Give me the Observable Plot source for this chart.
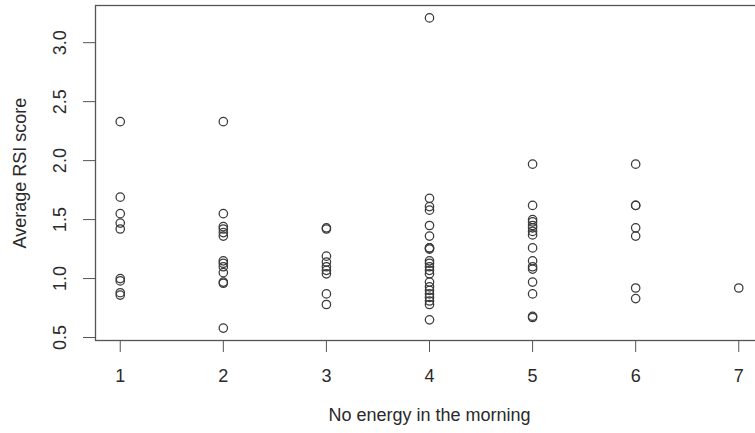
<!DOCTYPE html>
<html>
<head>
<meta charset="utf-8">
<script src="https://cdn.jsdelivr.net/npm/d3@7"></script>
<script src="https://cdn.jsdelivr.net/npm/@observablehq/plot@0.6"></script>
<style>
  html, body { margin: 0; padding: 0; background: #fff; overflow: hidden; }
  #chart { width: 755px; height: 433px; overflow: hidden; }
  #chart svg { max-width: none !important; }
</style>
</head>
<body>
<div id="chart"></div>
<script>
// Average RSI score by "No energy in the morning" level (1–7)
const level1 = [2.33, 1.69, 1.55, 1.47, 1.42, 1.00, 0.98, 0.88, 0.86];
const level2 = [2.33, 1.55, 1.44, 1.42, 1.39, 1.36, 1.15, 1.13, 1.10, 1.05, 0.97, 0.96, 0.58];
const level3 = [1.43, 1.42, 1.19, 1.14, 1.10, 1.07, 1.04, 0.87, 0.78];
const level4 = [3.21, 1.68, 1.61, 1.58, 1.45, 1.36, 1.26, 1.26, 1.25, 1.15, 1.13, 1.10, 1.07, 1.04, 0.97, 0.93, 0.90, 0.87, 0.84, 0.81, 0.78, 0.65];
const level5 = [1.97, 1.62, 1.50, 1.48, 1.45, 1.43, 1.40, 1.37, 1.26, 1.15, 1.10, 1.08, 0.97, 0.87, 0.68, 0.67];
const level6 = [1.97, 1.62, 1.62, 1.43, 1.36, 0.92, 0.83];
const level7 = [0.92];

const xTicks = [1, 2, 3, 4, 5, 6, 7];
const yTicks = [0.5, 1.0, 1.5, 2.0, 2.5, 3.0];
const xLabel = "No energy in the morning";
const yLabel = "Average RSI score";

const groups = [level1, level2, level3, level4, level5, level6, level7];
const data = groups.flatMap((vals, i) => vals.map(v => ({level: xTicks[i], rsi: v})));

// R-style 4% axis expansion
const allY = data.map(d => d.rsi);
const yMin = d3.min(allY), yMax = d3.max(allY);
const yPad = (yMax - yMin) * 0.04;
const xPad = (d3.max(xTicks) - d3.min(xTicks)) * 0.04;

const ink = "#2a2a2a";

const chart = Plot.plot({
  width: 771,
  height: 433,
  marginLeft: 95,
  marginRight: 8,
  marginTop: 5,
  marginBottom: 93,
  style: {fontFamily: "'Liberation Sans', Arial, sans-serif", fontSize: "18px", color: ink, background: "#fff", maxWidth: "none"},
  x: {domain: [d3.min(xTicks) - xPad, d3.max(xTicks) + xPad]},
  y: {domain: [yMin - yPad, yMax + yPad]},
  marks: [
    Plot.frame({stroke: "#555", strokeWidth: 1.3}),
    Plot.axisX({ticks: xTicks, tickFormat: d => String(d), tickSize: 12, tickPadding: 17, stroke: "#555", fontSize: 18, label: xLabel, labelAnchor: "center", labelArrow: "none", labelOffset: 80}),
    Plot.axisY({ticks: yTicks, tickFormat: d => d.toFixed(1), tickSize: 12, tickPadding: 18, tickRotate: -90, stroke: "#555", fontSize: 18, label: yLabel, labelAnchor: "center", labelArrow: "none", labelOffset: 82}),
    Plot.dot(data, {x: "level", y: "rsi", r: 4.2, stroke: "#3a3a3a", strokeWidth: 1.25, fill: "none"})
  ]
});
document.getElementById("chart").appendChild(chart);
</script>
</body>
</html>
